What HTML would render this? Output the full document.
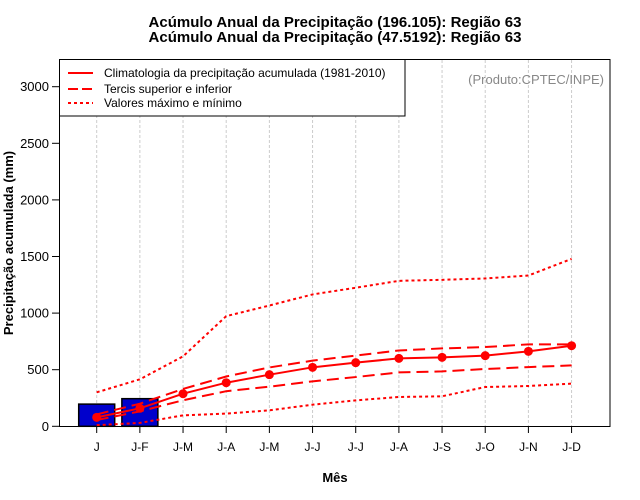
<!DOCTYPE html>
<html><head><meta charset="utf-8"><style>
html,body{margin:0;padding:0;background:#fff}
svg{display:block;font-family:"Liberation Sans",sans-serif}
</style></head><body>
<svg id="chart" width="640" height="500" viewBox="0 0 640 500">
<text x="335" y="27" text-anchor="middle" font-size="15" font-weight="bold">Acúmulo Anual da Precipitação (196.105): Região 63</text>
<text x="335" y="42" text-anchor="middle" font-size="15" font-weight="bold">Acúmulo Anual da Precipitação (47.5192): Região 63</text>
<g id="grid"></g>
<g id="bars"></g>
<g id="lines"></g>
<rect x="59.5" y="59.5" width="550.5" height="367" fill="none" stroke="#000" stroke-width="1"/>
<g id="yaxis"></g>
<g id="xaxis"></g>
<text x="335" y="482" text-anchor="middle" font-size="13" font-weight="bold">Mês</text>
<text transform="translate(13,243) rotate(-90)" text-anchor="middle" font-size="13" font-weight="bold">Precipitação acumulada (mm)</text>
<text x="604" y="84" text-anchor="end" font-size="13" fill="#888">(Produto:CPTEC/INPE)</text>
<g>
<rect x="59.5" y="59.5" width="345.5" height="56.5" fill="#fff" stroke="#000"/>
<line x1="68" y1="73" x2="93" y2="73" stroke="#f00" stroke-width="2"/>
<text x="104" y="77" font-size="12">Climatologia da precipitação acumulada (1981-2010)</text>
<line x1="68" y1="89" x2="93" y2="89" stroke="#f00" stroke-width="2" stroke-dasharray="10,4"/>
<text x="104" y="93" font-size="12">Tercis superior e inferior</text>
<line x1="68" y1="103" x2="93" y2="103" stroke="#f00" stroke-width="2" stroke-dasharray="3,3"/>
<text x="104" y="107" font-size="12">Valores máximo e mínimo</text>
</g>
</svg>
<script>
const categories = ["J","J-F","J-M","J-A","J-M","J-J","J-J","J-A","J-S","J-O","J-N","J-D"];
const observed = [196, 244];
const climatology = [79,159,288,385,456,521,562,600,609,624,662,712];
const upperTercile = [105,200,330,440,520,580,625,670,688,700,724,724];
const lowerTercile = [55,132,230,310,350,397,435,476,485,506,523,538];
const maxValues = [300,415,618,973,1067,1165,1224,1285,1294,1306,1332,1479];
const minValues = [10,30,97,112,141,191,229,259,265,347,356,377];
const yTicks = [0,500,1000,1500,2000,2500,3000];

const NS = "http://www.w3.org/2000/svg";
const xPos = i => 96.7 + i * 43.17;
const yPos = v => 426.3 - v * (339.6 / 3000);
function mk(tag, attrs, parent){const e=document.createElementNS(NS,tag);for(const k in attrs)e.setAttribute(k,attrs[k]);document.getElementById(parent).appendChild(e);return e;}

categories.forEach((c,i)=>{
  const g = mk("line",{x1:xPos(i),x2:xPos(i),y1:60,y2:426,stroke:"#ccc","stroke-dasharray":"3,2"},"grid");
  
  
  const t = mk("line",{x1:xPos(i),x2:xPos(i),y1:426,y2:433,stroke:"#000"},"xaxis");
  
  
  const l = mk("text",{x:xPos(i),y:451,"text-anchor":"middle","font-size":"12"},"xaxis");
  l.textContent = c;
  
  
});
yTicks.forEach(v=>{
  const t = mk("line",{x1:52,x2:59,y1:yPos(v),y2:yPos(v),stroke:"#000"},"yaxis");
  
  
  const l = mk("text",{x:49,y:yPos(v)+4.5,"text-anchor":"end","font-size":"13"},"yaxis");
  l.textContent = v;
  
  
});
observed.forEach((v,i)=>{
  const b = mk("rect",{x:xPos(i)-18,y:yPos(v),width:36,height:yPos(0)-yPos(v),fill:"#0000cc",stroke:"#000","stroke-width":"1.5"},"bars");
  
  
});
function line(arr,dash,name){
  const p = mk("polyline",{points:arr.map((v,i)=>xPos(i)+","+yPos(v)).join(" "),fill:"none",stroke:"#f00","stroke-width":"2","stroke-dasharray":dash},"lines");
  
  
}
line(maxValues,"3,3","max-line");
line(minValues,"3,3","min-line");
line(upperTercile,"12,6","upper-tercile-line");
line(lowerTercile,"12,6","lower-tercile-line");
line(climatology,"none","climatology-line");
climatology.forEach((v,i)=>{
  const c = mk("circle",{cx:xPos(i),cy:yPos(v),r:4.5,fill:"#f00"},"lines");
  
  
});
</script>
</body></html>
